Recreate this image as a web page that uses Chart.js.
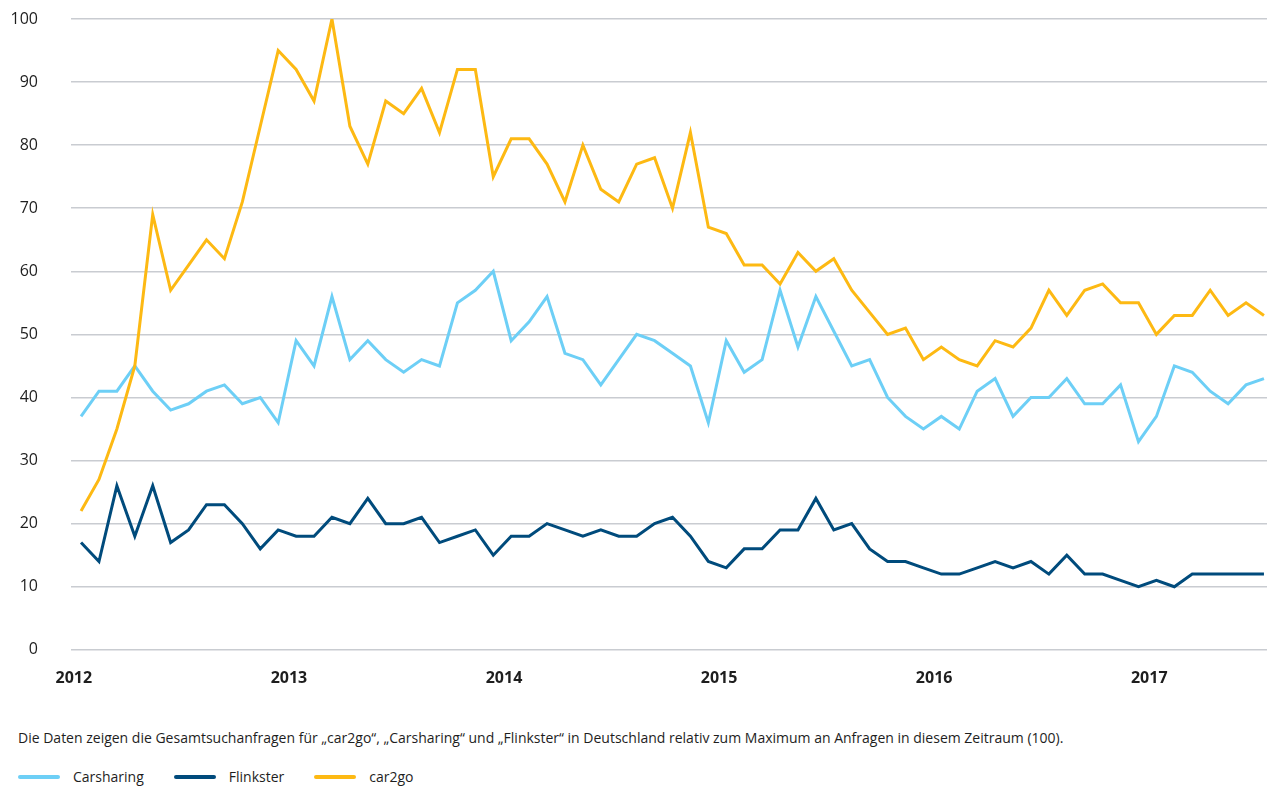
<!DOCTYPE html>
<html lang="de">
<head>
<meta charset="utf-8">
<script src="https://cdn.jsdelivr.net/npm/chart.js@4.4.1/dist/chart.umd.min.js"></script>
<style>
  html, body { margin: 0; padding: 0; background: #fff; }
  body { width: 1267px; height: 787px; position: relative; overflow: hidden; font-family: "Open Sans", sans-serif; color: #1e1e1e; }
  #wrap { position: absolute; left: 0; top: 0; width: 1267px; height: 707px; }
  #caption { position: absolute; left: 18px; top: 728px; font-size: 14px; line-height: 20px; white-space: nowrap; }
  #legend { position: absolute; left: 18px; top: 767px; font-size: 14px; line-height: 20px; display: flex; white-space: nowrap; }
  .item { display: flex; align-items: center; margin-right: 30px; }
  .swatch { width: 42px; height: 4px; border-radius: 2px; margin-right: 13px; }
</style>
</head>
<body>
<div id="wrap"><canvas id="c"></canvas></div>
<div id="caption">Die Daten zeigen die Gesamtsuchanfragen für „car2go“, „Carsharing“ und „Flinkster“ in Deutschland relativ zum Maximum an Anfragen in diesem Zeitraum (100).</div>
<div id="legend"></div>
<script>
const months = [
  "01/2012","02/2012","03/2012","04/2012","05/2012","06/2012","07/2012","08/2012","09/2012","10/2012","11/2012","12/2012",
  "01/2013","02/2013","03/2013","04/2013","05/2013","06/2013","07/2013","08/2013","09/2013","10/2013","11/2013","12/2013",
  "01/2014","02/2014","03/2014","04/2014","05/2014","06/2014","07/2014","08/2014","09/2014","10/2014","11/2014","12/2014",
  "01/2015","02/2015","03/2015","04/2015","05/2015","06/2015","07/2015","08/2015","09/2015","10/2015","11/2015","12/2015",
  "01/2016","02/2016","03/2016","04/2016","05/2016","06/2016","07/2016","08/2016","09/2016","10/2016","11/2016","12/2016",
  "01/2017","02/2017","03/2017","04/2017","05/2017","06/2017","07/2017"
];
const yearLabels = ["2012","2013","2014","2015","2016","2017"];
const yTicks = [0,10,20,30,40,50,60,70,80,90,100];

const carsharing = [
  37,41,41,45,41,38,39,41,42,39,40,36,
  49,45,56,46,49,46,44,46,45,55,57,60,
  49,52,56,47,46,42,46,50,49,47,45,36,
  49,44,46,57,48,56,50.5,45,46,40,37,35,
  37,35,41,43,37,40,40,43,39,39,42,33,
  37,45,44,41,39,42,43
];
const flinkster = [
  17,14,26,18,26,17,19,23,23,20,16,19,
  18,18,21,20,24,20,20,21,17,18,19,15,
  18,18,20,19,18,19,18,18,20,21,18,14,
  13,16,16,19,19,24,19,20,16,14,14,13,
  12,12,13,14,13,14,12,15,12,12,11,10,
  11,10,12,12,12,12,12
];
const car2go = [
  22,27,35,45,69,57,61,65,62,71,83,95,
  92,87,100,83,77,87,85,89,82,92,92,75,
  81,81,77,71,80,73,71,77,78,70,82,67,
  66,61,61,58,63,60,62,57,53.5,50,51,46,
  48,46,45,49,48,51,57,53,57,58,55,55,
  50,53,53,57,53,55,53
];

const series = [
  { name: "Carsharing", values: carsharing, color: "#6dcff6", order: 2 },
  { name: "Flinkster", values: flinkster, color: "#004b7c", order: 1 },
  { name: "car2go", values: car2go, color: "#fdb913", order: 0 }
];

// year labels sit just before the January point of each year
const yearPos = yearLabels.map(y => months.indexOf("01/" + y) - 0.4);

const legend = document.getElementById("legend");
series.forEach(s => {
  const it = document.createElement("div"); it.className = "item";
  const sw = document.createElement("span"); sw.className = "swatch"; sw.style.background = s.color;
  const tx = document.createElement("span"); tx.textContent = s.name;
  it.appendChild(sw); it.appendChild(tx); legend.appendChild(it);
});

new Chart(document.getElementById("c"), {
  type: "line",
  data: {
    datasets: series.map(s => ({
      label: s.name,
      data: s.values.map((v, i) => ({ x: i, y: v })),
      borderColor: s.color,
      backgroundColor: s.color,
      borderWidth: 3,
      pointRadius: 0,
      tension: 0,
      order: s.order
    }))
  },
  options: {
    responsive: true,
    maintainAspectRatio: false,
    animation: false,
    layout: { padding: { left: 8, right: 0, top: 19, bottom: 0 } },
    plugins: { legend: { display: false }, tooltip: { enabled: false } },
    scales: {
      x: {
        type: "linear",
        min: -0.56,
        max: months.length - 1 + 0.17,
        grid: { display: false, drawTicks: false },
        border: { display: false },
        afterBuildTicks: sc => { sc.ticks = yearPos.map(v => ({ value: v })); },
        ticks: {
          autoSkip: false,
          maxRotation: 0,
          padding: 19,
          color: "#1e1e1e",
          font: { family: "Open Sans", size: 16, weight: "bold" },
          callback: (v, i) => yearLabels[i]
        }
      },
      y: {
        min: 0,
        max: 100,
        afterFit: sc => { sc.width = 63; },
        afterBuildTicks: sc => { sc.ticks = yTicks.map(v => ({ value: v })); },
        grid: { color: "#c9ccd1", lineWidth: 1.5, drawTicks: true, tickLength: 33, tickColor: "rgba(0,0,0,0)" },
        border: { display: false },
        ticks: {
          padding: 0,
          color: "#1e1e1e",
          font: { family: "Open Sans", size: 16 }
        }
      }
    }
  }
});
</script>
</body>
</html>
